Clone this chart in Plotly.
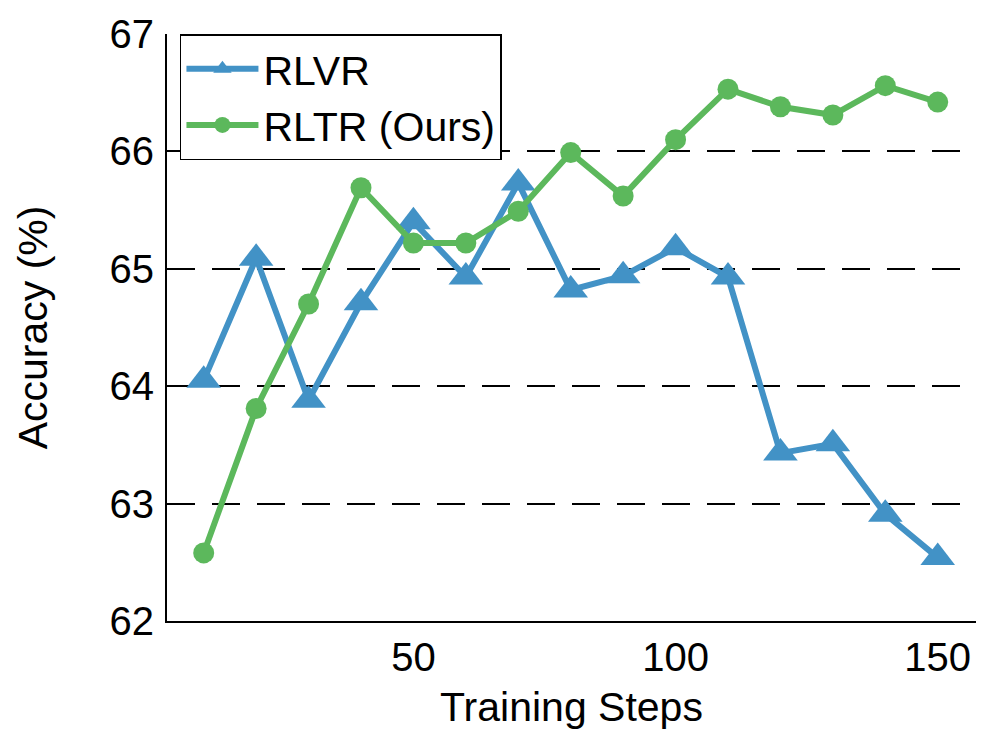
import plotly.graph_objects as go

OUTPUT_FILE = 'out.html'

STEPS = [10, 20, 30, 40, 50, 60, 70, 80, 90, 100, 110, 120, 130, 140, 150]
RLVR = [64.05, 65.09, 63.88, 64.71, 65.40, 64.93, 65.73, 64.82, 64.94, 65.18, 64.93, 63.43, 63.51, 62.91, 62.54]
RLTR = [62.58, 63.81, 64.70, 65.69, 65.22, 65.22, 65.49, 65.99, 65.62, 66.10, 66.53, 66.38, 66.31, 66.56, 66.42]

X_TICKS = [50, 100, 150]
Y_TICKS = [62, 63, 64, 65, 66, 67]

FONT = 'Liberation Sans, Arial, Helvetica, sans-serif'


def build_figure():
	fig = go.Figure()

	fig.add_trace(go.Scatter(
		x=STEPS, y=RLVR, name='RLVR',
		mode='lines+markers',
		line=dict(color='#4292c6', width=6),
		marker=dict(symbol='triangle-up', size=30, color='#4292c6'),
	))
	fig.add_trace(go.Scatter(
		x=STEPS, y=RLTR, name='RLTR (Ours)',
		mode='lines+markers',
		line=dict(color='#5cb85c', width=6),
		marker=dict(symbol='circle', size=21, color='#5cb85c'),
	))

	# page body adds an 8px offset, so the figure is a bit smaller than the window
	fig.update_layout(
		width=988, height=739,
		margin=dict(l=159, r=20, t=26, b=126),
		plot_bgcolor='white', paper_bgcolor='white',
		font=dict(family=FONT, size=40, color='black'),
		showlegend=True,
		legend=dict(
			x=0.016, y=1, xanchor='left', yanchor='top',
			bordercolor='black', borderwidth=1.5, bgcolor='white',
			font=dict(size=41), itemwidth=72,
		),
		xaxis=dict(
			title=dict(text='Training Steps', font=dict(size=41), standoff=14),
			range=[3, 157.3], tickvals=X_TICKS,
			showgrid=False, zeroline=False, automargin=False,
			showline=True, linecolor='black', linewidth=2,
			ticks='', tickfont=dict(size=40),
		),
		yaxis=dict(
			title=dict(text='Accuracy (%)', font=dict(size=41), standoff=49),
			range=[62, 67], tickvals=Y_TICKS,
			showgrid=True, gridcolor='black', gridwidth=2, griddash='28px,17px',
			zeroline=False, automargin=False,
			showline=True, linecolor='black', linewidth=2,
			ticks='', tickfont=dict(size=40), ticklabelstandoff=3,
		),
	)
	return fig


if __name__ == '__main__':
	fig = build_figure()
	fig.write_html(OUTPUT_FILE)
	print(f'Saved: {OUTPUT_FILE}')
